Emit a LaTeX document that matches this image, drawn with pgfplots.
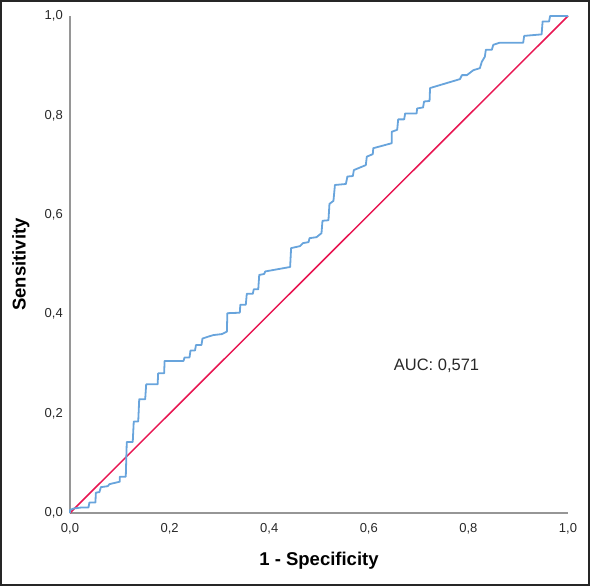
\documentclass[border=0pt]{standalone}
\usepackage{fontspec}
\setmainfont{Liberation Sans}
\usepackage{pgfplots}
\pgfplotsset{compat=1.18}
\definecolor{rocblue}{RGB}{104,164,220}
\definecolor{rocred}{RGB}{232,22,82}
\definecolor{axgray}{RGB}{150,150,150}
\definecolor{txt}{RGB}{40,40,40}
\begin{document}
\begin{tikzpicture}
\begin{axis}[
  name=ax,
  scale only axis,
  width=498bp, height=497bp,
  xmin=0, xmax=1, ymin=0, ymax=1,
  axis lines*=left,
  axis line style={axgray, line width=1.6bp},
  xtick={0,0.2,...,1.0}, ytick={0,0.2,...,1.0},
  major tick length=0pt,
  /pgf/number format/assume math mode=true,
  /pgf/number format/use comma,
  /pgf/number format/fixed,
  /pgf/number format/fixed zerofill,
  /pgf/number format/precision=1,
  ticklabel style={font=\fontsize{13bp}{15bp}\selectfont, text=txt, inner sep=0pt},
  xticklabel style={anchor=north, yshift=-10bp},
  yticklabel style={anchor=east, xshift=-7bp},
  xlabel={\textbf{1 - Specificity}},
  ylabel={\textbf{Sensitivity}},
  label style={font=\fontsize{18.5bp}{20bp}\selectfont, text=black, inner sep=0pt},
  xlabel style={at={(axis description cs:0.5,-0.0966)}, anchor=center},
  ylabel style={at={(axis description cs:-0.0985,0.5)}, anchor=center},
  clip=false,
]
\addplot[rocred, line width=1.5bp] coordinates {(0,0) (1,1)};
\addplot[rocblue, line width=1.8bp, line join=round] coordinates {
(0,0) (0,0.006) (0.007,0.009) (0.022,0.011) (0.037,0.011) (0.039,0.021)
(0.051,0.021) (0.052,0.041) (0.059,0.042) (0.062,0.052) (0.076,0.054)
(0.079,0.058) (0.100,0.063) (0.100,0.073) (0.112,0.073) (0.114,0.143)
(0.126,0.143) (0.128,0.184) (0.137,0.184) (0.139,0.229) (0.151,0.229)
(0.153,0.259) (0.176,0.259) (0.177,0.281) (0.189,0.281) (0.190,0.306)
(0.228,0.306) (0.230,0.313) (0.240,0.313) (0.242,0.327) (0.251,0.327)
(0.253,0.338) (0.264,0.338) (0.266,0.351) (0.278,0.355) (0.288,0.358)
(0.305,0.360) (0.315,0.365) (0.316,0.402) (0.341,0.403) (0.342,0.419)
(0.353,0.419) (0.355,0.441) (0.367,0.441) (0.369,0.450) (0.378,0.450)
(0.380,0.479) (0.390,0.481) (0.392,0.486) (0.442,0.495) (0.444,0.533)
(0.462,0.537) (0.468,0.543) (0.479,0.545) (0.481,0.553) (0.495,0.555)
(0.505,0.563) (0.507,0.588) (0.519,0.589) (0.521,0.622) (0.529,0.628)
(0.532,0.660) (0.554,0.662) (0.557,0.677) (0.568,0.678) (0.570,0.690)
(0.594,0.700) (0.596,0.717) (0.608,0.722) (0.609,0.734) (0.646,0.744)
(0.646,0.767) (0.657,0.771) (0.659,0.792) (0.671,0.792) (0.673,0.804)
(0.696,0.804) (0.697,0.814) (0.709,0.816) (0.711,0.828) (0.722,0.829)
(0.723,0.855) (0.743,0.861) (0.783,0.873) (0.787,0.881) (0.797,0.881)
(0.810,0.891) (0.823,0.895) (0.827,0.908) (0.833,0.918) (0.835,0.932)
(0.847,0.932) (0.850,0.942) (0.862,0.946) (0.910,0.946) (0.912,0.960)
(0.947,0.963) (0.949,0.989) (0.962,0.989) (0.964,1.0) (1.0,1.0)
};
\node[font=\fontsize{16.5bp}{18bp}\selectfont, text=txt, anchor=center, inner sep=0pt]
  at (axis cs:0.736,0.296) {AUC: 0,571};
\end{axis}
\pgfresetboundingbox
\useasboundingbox ([shift={(-70bp,-73bp)}]ax.south west) rectangle ([shift={(520bp,513bp)}]ax.south west);
\draw[black!85, line width=2bp] ([shift={(-69bp,-72bp)}]ax.south west) rectangle ([shift={(519bp,512bp)}]ax.south west);
\end{tikzpicture}
\end{document}
